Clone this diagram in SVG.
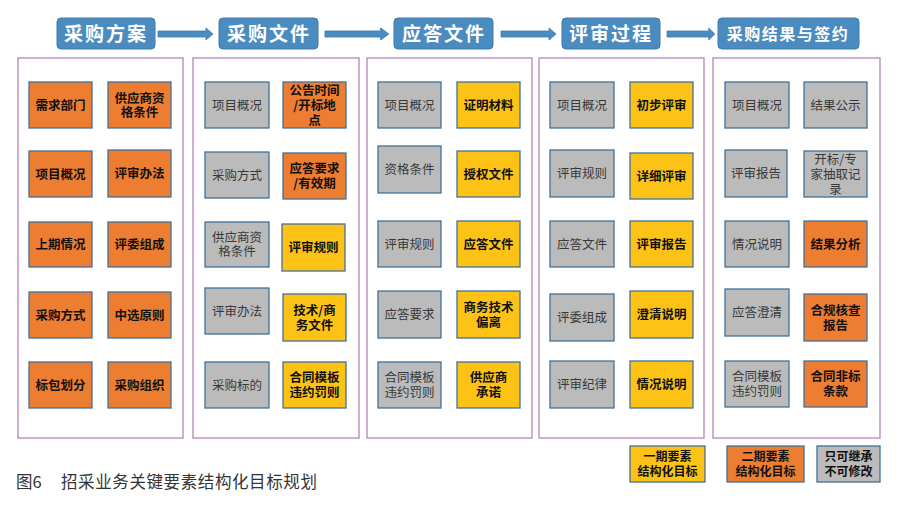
<svg xmlns="http://www.w3.org/2000/svg" width="900" height="505" viewBox="0 0 900 505">
<style>
text{font-family:"Noto Sans CJK SC","Noto Sans",sans-serif;text-anchor:middle}
.hd rect{fill:#4A8BC0;stroke:#3E7BAD;stroke-width:1}
.hd text{fill:#fff;font-weight:bold;font-size:19px;letter-spacing:2px}
.panel{fill:#fff;stroke:#B784B7;stroke-width:1.3}
.n rect{stroke:#41719C;stroke-width:1.3}
.o rect{fill:#ED7D31}
.y rect{fill:#FCC316}
.g rect{fill:#BBBBBB}
.o text,.y text{fill:#111;font-weight:bold;font-size:12.5px}
.g text{fill:#383838;font-size:12.5px}
.lg text{fill:#111;font-weight:bold;font-size:12px}
.arr{fill:#4A8BC0;stroke:#3E7BAD;stroke-width:0.8}
.cap{fill:#333;font-size:16.5px;text-anchor:start}
</style>
<defs>
<polygon id="ar" points="0,-3 48,-3 48,-6 55,0 48,6 48,3 0,3"/>
</defs>

<g id="headers">
<g id="h1" class="hd"><rect x="57" y="18" width="98" height="31" rx="4"/><text x="106" y="41">采购方案</text></g>
<g id="h2" class="hd"><rect x="219" y="18" width="99" height="31" rx="4"/><text x="269" y="41">采购文件</text></g>
<g id="h3" class="hd"><rect x="394" y="18" width="99" height="31" rx="4"/><text x="444" y="41">应答文件</text></g>
<g id="h4" class="hd"><rect x="562" y="18" width="98" height="31" rx="4"/><text x="611" y="41">评审过程</text></g>
<g id="h5" class="hd"><rect x="718" y="18" width="141" height="31" rx="4"/><text x="788" y="40" style="font-size:16px;letter-spacing:1.5px">采购结果与签约</text></g>
</g>

<g id="connectors">
<use href="#ar" class="arr" transform="translate(158,34)"/>
<use href="#ar" class="arr" transform="translate(325,34) scale(1.16,1)"/>
<use href="#ar" class="arr" transform="translate(501,34)"/>
<use href="#ar" class="arr" transform="translate(667,34) scale(0.87,1)"/>
</g>

<g id="panels">
<rect class="panel" x="18" y="58" width="165" height="380"/>
<rect class="panel" x="193" y="58" width="166" height="380"/>
<rect class="panel" x="367" y="58" width="165" height="380"/>
<rect class="panel" x="539" y="58" width="165" height="380"/>
<rect class="panel" x="713" y="58" width="167" height="380"/>
</g>

<!-- Panel 1 -->
<g id="p1n1" class="n o"><rect x="29" y="82" width="63" height="46"/><text x="60.5" y="110">需求部门</text></g>
<g id="p1n2" class="n o"><rect x="108" y="82" width="63" height="46"/><text x="139.5" y="103">供应商资</text><text x="139.5" y="117">格条件</text></g>
<g id="p1n3" class="n o"><rect x="29" y="151" width="63" height="46"/><text x="60.5" y="179">项目概况</text></g>
<g id="p1n4" class="n o"><rect x="108" y="150" width="63" height="47"/><text x="139.5" y="178">评审办法</text></g>
<g id="p1n5" class="n o"><rect x="29" y="222" width="63" height="45"/><text x="60.5" y="249">上期情况</text></g>
<g id="p1n6" class="n o"><rect x="108" y="222" width="63" height="45"/><text x="139.5" y="249">评委组成</text></g>
<g id="p1n7" class="n o"><rect x="29" y="292" width="63" height="46"/><text x="60.5" y="320">采购方式</text></g>
<g id="p1n8" class="n o"><rect x="108" y="292" width="63" height="46"/><text x="139.5" y="320">中选原则</text></g>
<g id="p1n9" class="n o"><rect x="29" y="362" width="63" height="46"/><text x="60.5" y="390">标包划分</text></g>
<g id="p1n10" class="n o"><rect x="108" y="362" width="63" height="46"/><text x="139.5" y="390">采购组织</text></g>

<!-- Panel 2 -->
<g id="p2n1" class="n g"><rect x="205" y="82" width="64" height="46"/><text x="237" y="110">项目概况</text></g>
<g id="p2n2" class="n o"><rect x="283" y="82" width="63" height="46"/><text x="314.5" y="95">公告时间</text><text x="314.5" y="110">/开标地</text><text x="314.5" y="125">点</text></g>
<g id="p2n3" class="n g"><rect x="205" y="152" width="64" height="46"/><text x="237" y="180">采购方式</text></g>
<g id="p2n4" class="n o"><rect x="283" y="153" width="63" height="46"/><text x="314.5" y="173">应答要求</text><text x="314.5" y="188">/有效期</text></g>
<g id="p2n5" class="n g"><rect x="205" y="222" width="64" height="45"/><text x="237" y="242">供应商资</text><text x="237" y="256">格条件</text></g>
<g id="p2n6" class="n y"><rect x="282" y="224" width="63" height="47"/><text x="313.5" y="252">评审规则</text></g>
<g id="p2n7" class="n g"><rect x="205" y="288" width="64" height="46"/><text x="237" y="316">评审办法</text></g>
<g id="p2n8" class="n y"><rect x="283" y="294" width="63" height="47"/><text x="314.5" y="315">技术/商</text><text x="314.5" y="330">务文件</text></g>
<g id="p2n9" class="n g"><rect x="205" y="362" width="64" height="46"/><text x="237" y="390">采购标的</text></g>
<g id="p2n10" class="n y"><rect x="283" y="362" width="63" height="46"/><text x="314.5" y="382">合同模板</text><text x="314.5" y="397">违约罚则</text></g>

<!-- Panel 3 -->
<g id="p3n1" class="n g"><rect x="378" y="82" width="63" height="46"/><text x="409.5" y="110">项目概况</text></g>
<g id="p3n2" class="n y"><rect x="457" y="82" width="63" height="46"/><text x="488.5" y="110">证明材料</text></g>
<g id="p3n3" class="n g"><rect x="378" y="146" width="63" height="47"/><text x="409.5" y="174">资格条件</text></g>
<g id="p3n4" class="n y"><rect x="457" y="151" width="63" height="46"/><text x="488.5" y="179">授权文件</text></g>
<g id="p3n5" class="n g"><rect x="378" y="221" width="63" height="46"/><text x="409.5" y="249">评审规则</text></g>
<g id="p3n6" class="n y"><rect x="457" y="221" width="63" height="46"/><text x="488.5" y="249">应答文件</text></g>
<g id="p3n7" class="n g"><rect x="378" y="291" width="63" height="47"/><text x="409.5" y="319">应答要求</text></g>
<g id="p3n8" class="n y"><rect x="457" y="291" width="63" height="47"/><text x="488.5" y="312">商务技术</text><text x="488.5" y="327">偏离</text></g>
<g id="p3n9" class="n g"><rect x="378" y="362" width="63" height="46"/><text x="409.5" y="382">合同模板</text><text x="409.5" y="397">违约罚则</text></g>
<g id="p3n10" class="n y"><rect x="457" y="362" width="63" height="46"/><text x="488.5" y="382">供应商</text><text x="488.5" y="397">承诺</text></g>

<!-- Panel 4 -->
<g id="p4n1" class="n g"><rect x="550" y="82" width="64" height="46"/><text x="582" y="110">项目概况</text></g>
<g id="p4n2" class="n y"><rect x="630" y="82" width="63" height="46"/><text x="661.5" y="110">初步评审</text></g>
<g id="p4n3" class="n g"><rect x="550" y="150" width="64" height="47"/><text x="582" y="178">评审规则</text></g>
<g id="p4n4" class="n y"><rect x="630" y="153" width="63" height="46"/><text x="661.5" y="181">详细评审</text></g>
<g id="p4n5" class="n g"><rect x="550" y="221" width="64" height="46"/><text x="582" y="249">应答文件</text></g>
<g id="p4n6" class="n y"><rect x="630" y="221" width="63" height="46"/><text x="661.5" y="249">评审报告</text></g>
<g id="p4n7" class="n g"><rect x="550" y="294" width="64" height="47"/><text x="582" y="322">评委组成</text></g>
<g id="p4n8" class="n y"><rect x="630" y="291" width="63" height="47"/><text x="661.5" y="319">澄清说明</text></g>
<g id="p4n9" class="n g"><rect x="550" y="361" width="64" height="47"/><text x="582" y="389">评审纪律</text></g>
<g id="p4n10" class="n y"><rect x="630" y="361" width="63" height="47"/><text x="661.5" y="389">情况说明</text></g>

<!-- Panel 5 -->
<g id="p5n1" class="n g"><rect x="725" y="82" width="64" height="46"/><text x="757" y="110">项目概况</text></g>
<g id="p5n2" class="n g"><rect x="804" y="82" width="63" height="46"/><text x="835.5" y="110">结果公示</text></g>
<g id="p5n3" class="n g"><rect x="725" y="150" width="62" height="47"/><text x="756" y="178">评审报告</text></g>
<g id="p5n4" class="n g"><rect x="804" y="151" width="63" height="46"/><text x="835.5" y="164">开标/专</text><text x="835.5" y="179">家抽取记</text><text x="835.5" y="194">录</text></g>
<g id="p5n5" class="n g"><rect x="725" y="221" width="64" height="46"/><text x="757" y="249">情况说明</text></g>
<g id="p5n6" class="n o"><rect x="804" y="221" width="63" height="46"/><text x="835.5" y="249">结果分析</text></g>
<g id="p5n7" class="n g"><rect x="725" y="289" width="64" height="47"/><text x="757" y="317">应答澄清</text></g>
<g id="p5n8" class="n o"><rect x="804" y="294" width="63" height="47"/><text x="835.5" y="315">合规核查</text><text x="835.5" y="330">报告</text></g>
<g id="p5n9" class="n g"><rect x="725" y="361" width="64" height="46"/><text x="757" y="381">合同模板</text><text x="757" y="396">违约罚则</text></g>
<g id="p5n10" class="n o"><rect x="804" y="361" width="63" height="46"/><text x="835.5" y="381">合同非标</text><text x="835.5" y="396">条款</text></g>

<!-- Legend -->
<g id="lg1" class="n y lg"><rect x="630" y="446" width="75" height="36"/><text x="667.5" y="461">一期要素</text><text x="667.5" y="476">结构化目标</text></g>
<g id="lg2" class="n o lg"><rect x="727" y="446" width="77" height="36"/><text x="765.5" y="461">二期要素</text><text x="765.5" y="476">结构化目标</text></g>
<g id="lg3" class="n g lg"><rect x="817" y="446" width="63" height="36"/><text x="848.5" y="461" style="fill:#111">只可继承</text><text x="848.5" y="476" style="fill:#111">不可修改</text></g>

<text class="cap" x="16" y="488">图6</text>
<text class="cap" x="61" y="488" style="letter-spacing:0.6px">招采业务关键要素结构化目标规划</text>
</svg>
